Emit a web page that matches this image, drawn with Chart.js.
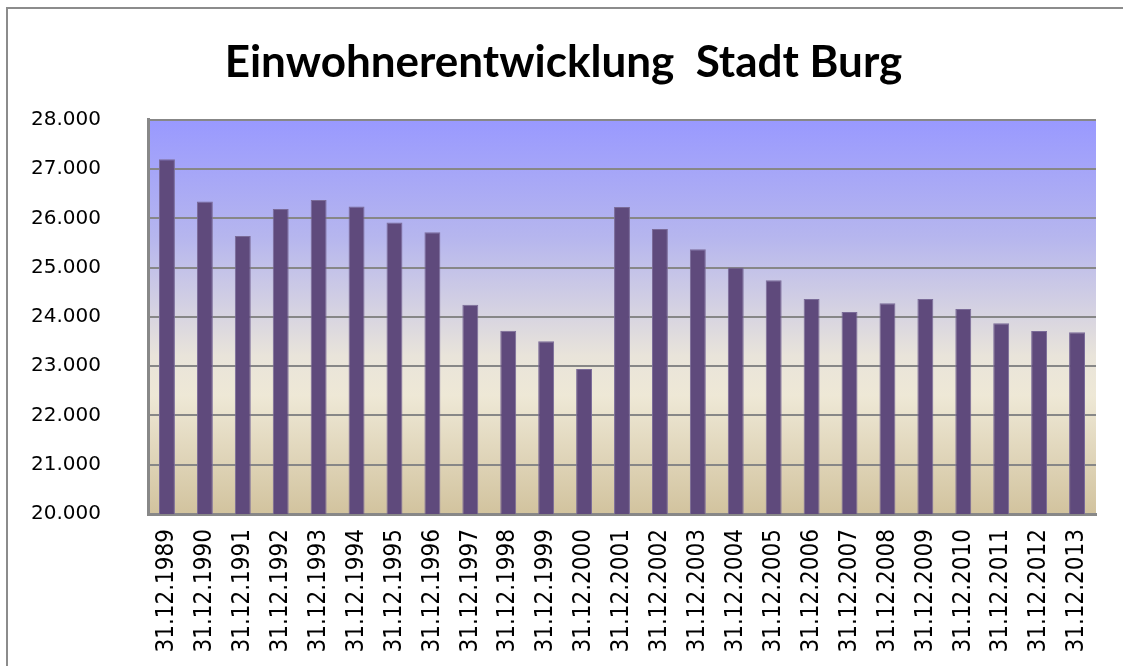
<!DOCTYPE html>
<html><head><meta charset="utf-8">
<script src="https://cdn.jsdelivr.net/npm/chart.js@4/dist/chart.umd.min.js"></script>
<style>
html,body{margin:0;padding:0;background:#fff;overflow:hidden;}
canvas{display:block;}
</style></head><body>
<canvas id="c" width="1123" height="666"></canvas>
<script>
const categories = ["31.12.1989","31.12.1990","31.12.1991","31.12.1992","31.12.1993","31.12.1994","31.12.1995","31.12.1996","31.12.1997","31.12.1998","31.12.1999","31.12.2000","31.12.2001","31.12.2002","31.12.2003","31.12.2004","31.12.2005","31.12.2006","31.12.2007","31.12.2008","31.12.2009","31.12.2010","31.12.2011","31.12.2012","31.12.2013"];
const population = [27200,26340,25640,26190,26370,26240,25915,25720,24245,23720,23505,22945,26230,25785,25375,25005,24745,24365,24100,24275,24365,24160,23870,23715,23690];
const yMin = 20000, yMax = 28000, yStep = 1000;
const title = "Einwohnerentwicklung  Stadt Burg";

const bgPlugin = {
  id:'plotBg',
  beforeDraw(chart){
    const {ctx, chartArea:a} = chart;
    ctx.save();
    ctx.strokeStyle='#8c8c8c'; ctx.lineWidth=2;
    ctx.beginPath(); ctx.moveTo(7,666); ctx.lineTo(7,8); ctx.lineTo(1123,8); ctx.stroke();
    const g = ctx.createLinearGradient(0,a.top,0,a.bottom);
    g.addColorStop(0,'#9999ff');
    g.addColorStop(0.3,'#b6b6ee');
    g.addColorStop(0.6,'#e9e4da');
    g.addColorStop(0.7,'#eee8d6');
    g.addColorStop(1,'#d2c39e');
    ctx.fillStyle=g; ctx.fillRect(a.left,a.top,a.right-a.left,a.bottom-a.top);
    ctx.restore();
  }
};

new Chart(document.getElementById('c'),{
  type:'bar',
  data:{labels:categories,datasets:[{data:population,backgroundColor:'#5f4a7c',borderColor:'#7a6b98',borderWidth:{left:1,right:1,top:1,bottom:0},barPercentage:0.42,categoryPercentage:1}]},
  options:{
    responsive:false,animation:false,
    layout:{padding:{left:31,right:27,top:0,bottom:0}},
    plugins:{
      legend:{display:false},tooltip:{enabled:false},
      title:{display:true,text:title,color:'#000',font:{family:'Lato, "Open Sans", sans-serif',size:44,weight:'bold',lineHeight:1.2},padding:{top:36,bottom:31}}
    },
    scales:{
      x:{grid:{display:false,drawTicks:false},border:{display:true,color:'#888',width:3},
         ticks:{color:'#000',maxRotation:90,minRotation:90,autoSkip:false,padding:15,font:{family:'"DejaVu Sans Condensed", "DejaVu Sans", sans-serif',size:24}},
         afterFit:s=>{s.paddingLeft=0;s.paddingRight=0;s.height=152;}},
      y:{min:yMin,max:yMax,grid:{color:'#878787',lineWidth:2,drawTicks:false},border:{display:true,color:'#888',width:3},
         ticks:{stepSize:yStep,color:'#000',padding:47,font:{family:'"DejaVu Sans", sans-serif',size:20},
           callback:v=>v.toLocaleString('de-DE')},
         afterFit:s=>{s.width=117;}}
    }
  },
  plugins:[bgPlugin]
});
</script></body></html>
